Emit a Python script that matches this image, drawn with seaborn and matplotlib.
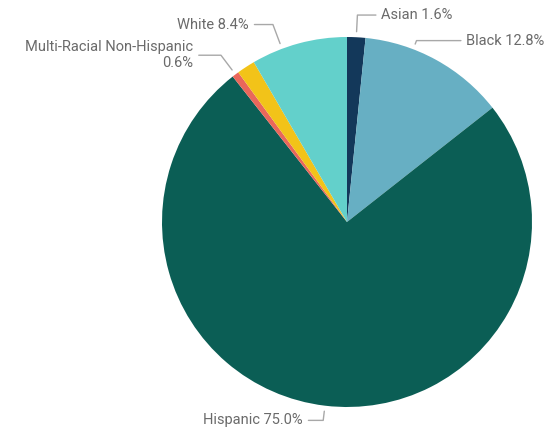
import numpy as np
import matplotlib
matplotlib.use("Agg")
import matplotlib.pyplot as plt
import seaborn as sns

# data
groups = ["Asian", "Black", "Hispanic", "Multi-Racial Non-Hispanic", "Other", "White"]
shares = [1.6, 12.8, 75.0, 0.6, 1.6, 8.4]
label_texts = ["Asian 1.6%", "Black 12.8%", "Hispanic 75.0%",
               "Multi-Racial Non-Hispanic\n0.6%", "", "White 8.4%"]
colors = ["#13385A", "#67AFC3", "#0B5E55", "#E9675B", "#F2C319", "#63D0CB"]

# leader line layout per slice: (anchor fraction in wedge, elbow radius, horizontal length)
leader = [(0.5, 1.12, 0.10), (0.33, 1.05, 0.24), (0.5, 1.08, 0.08),
          (0.5, 1.13, 0.12), None, (0.32, 1.14, 0.10)]

sns.set_theme(style="white")
plt.rcParams['font.family'] = ['Roboto', 'DejaVu Sans']

fig = plt.figure(figsize=(5.57, 4.43), dpi=100)
ax = fig.add_axes([0, 0, 1, 1])

wedges, _ = ax.pie(shares, colors=colors, startangle=90, counterclock=False,
                   wedgeprops=dict(linewidth=0))

line_col = "#a8a8a8"
txt_col = "#6a6a6a"
for w, txt, lay in zip(wedges, label_texts, leader):
    if lay is None or not txt:
        continue
    frac, r_el, hlen = lay
    ang = np.deg2rad(w.theta2 - frac * (w.theta2 - w.theta1))
    x0, y0 = 1.03 * np.cos(ang), 1.03 * np.sin(ang)
    x1, y1 = r_el * np.cos(ang), r_el * np.sin(ang)
    side = 1 if np.cos(ang) >= 0 else -1
    x2 = x1 + side * hlen
    ax.plot([x0, x1, x2], [y0, y1, y1], color=line_col, lw=1, clip_on=False)
    ax.text(x2 + side * 0.03, y1, txt, ha="left" if side > 0 else "right",
            va="center", fontsize=10.5, color=txt_col,
            multialignment="right" if side < 0 else "left")

# place pie: centre at (347, 222) px, radius 185 px
ax.set_xlim(-347 / 185, (557 - 347) / 185)
ax.set_ylim(-(443 - 222) / 185, 222 / 185)
ax.set_aspect("auto")
ax.axis("off")

fig.savefig("out.png", dpi=100, facecolor="white")
